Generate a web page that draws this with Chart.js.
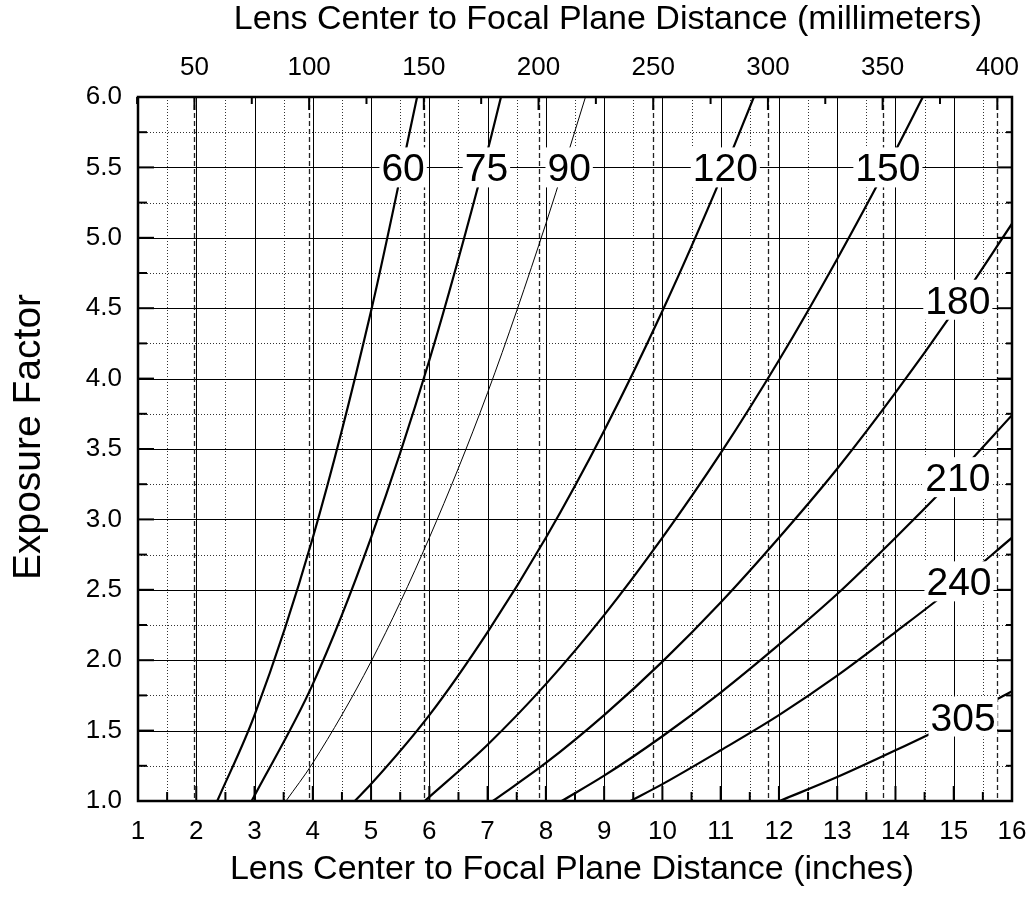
<!DOCTYPE html>
<html>
<head>
<meta charset="utf-8">
<script src="https://cdn.jsdelivr.net/npm/chart.js@4"></script>
<style>
  html, body { margin: 0; padding: 0; background: #fff; }
  #wrap { width: 1032px; height: 898px; }
</style>
</head>
<body>
<div id="wrap"><canvas id="c" width="1032" height="898"></canvas></div>
<script>
// curves: [inches, exposure factor], one per focal length (mm)
const curve60 = [[2.36, 1.00], [3, 1.61], [4, 2.87], [5, 4.48], [5.79, 6.00]];
const curve75 = [[2.95, 1.00], [4, 1.83], [5, 2.87], [6, 4.13], [7, 5.62], [7.23, 6.00]];
const curve90 = [[3.54, 1.00], [4, 1.27], [5, 1.99], [6, 2.87], [7, 3.90], [8, 5.10], [8.68, 6.00]];
const curve120 = [[4.72, 1.00], [5, 1.12], [6, 1.61], [7, 2.20], [8, 2.87], [9, 3.63], [10, 4.48], [11, 5.42], [11.57, 6.00]];
const curve150 = [[5.92, 1.00], [7, 1.40], [8, 1.83], [9, 2.32], [10, 2.87], [11, 3.47], [12, 4.13], [13, 4.85], [14, 5.62], [14.47, 6.00]];
const curve180 = [[7.09, 1.00], [8, 1.27], [9, 1.61], [10, 1.99], [11, 2.41], [12, 2.87], [13, 3.36], [14, 3.90], [15, 4.48], [16, 5.10]];
const curve210 = [[8.27, 1.00], [9, 1.18], [10, 1.46], [11, 1.77], [12, 2.11], [13, 2.47], [14, 2.87], [15, 3.29], [16, 3.74]];
const curve240 = [[9.45, 1.00], [10, 1.12], [11, 1.36], [12, 1.61], [13, 1.89], [14, 2.20], [15, 2.52], [16, 2.87]];
const curve305 = [[12.01, 1.00], [13, 1.17], [14, 1.36], [15, 1.56], [16, 1.78]];

const curves = [curve60, curve75, curve90, curve120, curve150, curve180, curve210, curve240, curve305];
const labelNames = ['60', '75', '90', '120', '150', '180', '210', '240', '305'];
const labelX = [5.55, 6.98, 8.40, 11.08, 13.87, 15.07, 15.07, 15.09, 15.16];
const labelY = [5.5, 5.5, 5.5, 5.5, 5.5, 4.56, 3.30, 2.56, 1.60];

const inchTicks = [1, 2, 3, 4, 5, 6, 7, 8, 9, 10, 11, 12, 13, 14, 15, 16];
const mmTicks = [50, 100, 150, 200, 250, 300, 350, 400];
const factorTicks = [1.0, 1.5, 2.0, 2.5, 3.0, 3.5, 4.0, 4.5, 5.0, 5.5, 6.0];

const FONT = '"Liberation Sans", Arial, sans-serif';

function line(ctx, x1, y1, x2, y2) {
  ctx.beginPath();
  ctx.moveTo(x1, y1);
  ctx.lineTo(x2, y2);
  ctx.stroke();
}

const gridPlugin = {
  id: 'paperGrid',
  beforeDatasetsDraw(chart) {
    const { ctx, chartArea: a, scales } = chart;
    const x = scales.x, y = scales.y, top = scales.x2;
    ctx.save();
    ctx.lineWidth = 1;
    // dotted minor grid
    ctx.strokeStyle = '#333';
    ctx.setLineDash([1, 2]);
    for (let v = 1.5; v < 16; v += 1) {
      const px = Math.round(x.getPixelForValue(v)) + 0.5;
      line(ctx, px, a.top, px, a.bottom);
    }
    for (let v = 1.25; v < 6; v += 0.5) {
      const py = Math.round(y.getPixelForValue(v)) + 0.5;
      line(ctx, a.left, py, a.right, py);
    }
    // solid major grid
    ctx.setLineDash([]);
    ctx.strokeStyle = '#000';
    for (let v = 2; v < 16; v += 1) {
      const px = Math.round(x.getPixelForValue(v)) + 0.5;
      line(ctx, px, a.top, px, a.bottom);
    }
    for (let v = 1.5; v < 6; v += 0.5) {
      const py = Math.round(y.getPixelForValue(v)) + 0.5;
      line(ctx, a.left, py, a.right, py);
    }
    // dashed millimetre lines
    ctx.strokeStyle = '#222';
    ctx.lineWidth = 1.3;
    ctx.setLineDash([5, 3]);
    mmTicks.forEach(v => {
      const px = Math.round(top.getPixelForValue(v)) + 0.5;
      line(ctx, px, a.top, px, a.bottom);
    });
    ctx.restore();
  },
  afterDatasetsDraw(chart) {
    const { ctx, chartArea: a, scales } = chart;
    const x = scales.x, y = scales.y, top = scales.x2;
    ctx.save();
    // curve labels on white boxes
    ctx.font = '39px ' + FONT;
    ctx.textAlign = 'center';
    ctx.textBaseline = 'alphabetic';
    labelNames.forEach((t, i) => {
      const cx = x.getPixelForValue(labelX[i]);
      const cy = y.getPixelForValue(labelY[i]);
      const w = ctx.measureText(t).width + 4;
      ctx.fillStyle = '#fff';
      ctx.fillRect(cx - w / 2, cy - 20, w, 40);
      ctx.fillStyle = '#000';
      ctx.fillText(t, cx, cy + 14);
    });
    // frame
    ctx.strokeStyle = '#000';
    ctx.lineWidth = 2.5;
    ctx.strokeRect(a.left, a.top, a.right - a.left, a.bottom - a.top);
    // inward tick marks
    ctx.lineWidth = 2;
    for (let v = 1; v <= 16; v += 0.5) {
      const px = x.getPixelForValue(v);
      const len = Number.isInteger(v) ? 15 : 9;
      line(ctx, px, a.bottom, px, a.bottom - len);
    }
    for (let v = 25; v <= 400; v += 25) {
      const px = top.getPixelForValue(v);
      const len = v % 50 === 0 ? 13 : 7;
      line(ctx, px, a.top, px, a.top + len);
    }
    for (let v = 1; v <= 6; v += 0.25) {
      const py = y.getPixelForValue(v);
      const major = Math.abs(v * 2 - Math.round(v * 2)) < 1e-6;
      line(ctx, a.left, py, a.left + (major ? 16 : 9), py);
      line(ctx, a.right, py, a.right - (major ? 15 : 6), py);
    }
    // axis titles
    ctx.fillStyle = '#000';
    ctx.textBaseline = 'middle';
    ctx.font = '34px ' + FONT;
    ctx.fillText('Lens Center to Focal Plane Distance (millimeters)', 608, 20);
    ctx.fillText('Lens Center to Focal Plane Distance (inches)', 572, 870);
    ctx.save();
    ctx.translate(29, 437);
    ctx.rotate(-Math.PI / 2);
    ctx.font = '39px ' + FONT;
    ctx.fillText('Exposure Factor', 0, 0);
    ctx.restore();
    ctx.restore();
  }
};

const tickFont = { family: FONT, size: 26 };

function fixH(h) {
  return s => { s.height = h; s.paddingLeft = 0; s.paddingRight = 0; };
}

new Chart(document.getElementById('c'), {
  type: 'line',
  data: {
    datasets: curves.map((pts, i) => ({
      label: labelNames[i],
      data: pts.map(p => ({ x: p[0], y: p[1] })),
      borderColor: '#000',
      borderWidth: labelNames[i] === '90' ? 1 : 2.2,
      pointRadius: 0,
      cubicInterpolationMode: 'monotone',
      fill: false
    }))
  },
  options: {
    responsive: false,
    animation: false,
    layout: { padding: { left: 0, right: 20, top: 0, bottom: 0 } },
    plugins: { legend: { display: false }, tooltip: { enabled: false } },
    scales: {
      x: {
        type: 'linear', position: 'bottom', min: 1, max: 16,
        grid: { display: false, drawTicks: false }, border: { display: false },
        afterBuildTicks: s => { s.ticks = inchTicks.map(v => ({ value: v })); },
        afterFit: fixH(97),
        ticks: { color: '#000', font: tickFont, padding: 15, maxRotation: 0, autoSkip: false }
      },
      x2: {
        type: 'linear', position: 'top', min: 25.4, max: 406.4,
        grid: { display: false, drawTicks: false }, border: { display: false },
        afterBuildTicks: s => { s.ticks = mmTicks.map(v => ({ value: v })); },
        afterFit: fixH(97),
        ticks: { color: '#000', font: tickFont, padding: 14, maxRotation: 0, autoSkip: false }
      },
      y: {
        type: 'linear', position: 'left', min: 1, max: 6,
        grid: { display: false, drawTicks: false }, border: { display: false },
        afterBuildTicks: s => { s.ticks = factorTicks.map(v => ({ value: v })); },
        afterFit: s => { s.width = 138; s.paddingTop = 0; s.paddingBottom = 0; },
        ticks: { color: '#000', font: tickFont, padding: 16, callback: v => Number(v).toFixed(1) }
      }
    }
  },
  plugins: [gridPlugin]
});
</script>
</body>
</html>
